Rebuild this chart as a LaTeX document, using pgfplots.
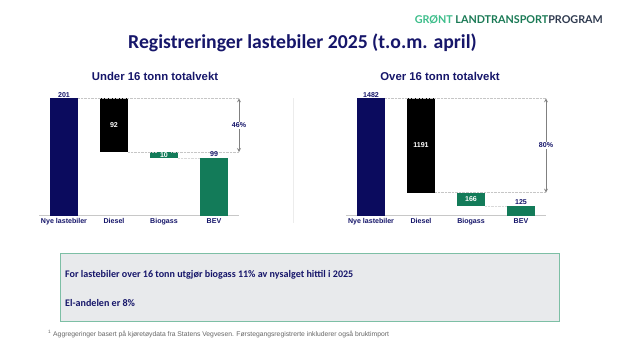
\documentclass[border=0pt]{standalone}
\usepackage{fontspec}
\setmainfont{Carlito}
\newfontfamily\arial{Liberation Sans}
\newfontfamily\logofont{Lato}
\usepackage{pgfplots}
\pgfplotsset{compat=1.18}
\definecolor{navybar}{HTML}{0B0B5E}
\definecolor{navytxt}{HTML}{16166A}
\definecolor{greenbar}{HTML}{137B59}
\definecolor{lgreen}{HTML}{3DBE8B}
\definecolor{dgreen}{HTML}{1A7A55}
\definecolor{logogray}{HTML}{2F3A4F}
\definecolor{boxfill}{HTML}{E8EAEC}
\definecolor{boxdraw}{HTML}{7DBFA5}
\definecolor{axgray}{HTML}{C8C8C8}
\newcommand{\lbl}{\arial\bfseries\fontsize{7.1}{8}\selectfont}
\pgfplotsset{wf/.style={
  width=200bp, height=117.4bp, scale only axis,
  xmin=-0.5, xmax=3.5, ymin=0,
  axis x line*=bottom, axis y line=none,
  x axis line style={axgray, line width=1pt, -},
  xtick={0,1,2,3}, xticklabels={Nye lastebiler,Diesel,Biogass,BEV},
  major tick length=0pt,
  xticklabel style={font=\lbl, text=navytxt, yshift=1pt},
  clip=false,
}}
\begin{document}
\begin{tikzpicture}[x=1bp,y=1bp]
\path[use as bounding box, fill=white] (0,0) rectangle (621,358);
% Left chart
\begin{axis}[wf, at={(39bp,142.3bp)}, anchor=south west, ymax=201]
% bars: Nye lastebiler 0-201, Diesel 109-201, Biogass 99-109, BEV 0-99
\addplot[draw=none, fill=navybar] coordinates {(-0.28,0) (0.28,0) (0.28,201) (-0.28,201)} -- cycle;
\addplot[draw=none, fill=black] coordinates {(0.72,109) (1.28,109) (1.28,201) (0.72,201)} -- cycle;
\addplot[draw=none, fill=greenbar] coordinates {(1.72,99) (2.28,99) (2.28,109) (1.72,109)} -- cycle;
\addplot[draw=none, fill=greenbar] coordinates {(2.72,0) (3.28,0) (3.28,99) (2.72,99)} -- cycle;
\draw[gray!45, densely dotted] (axis cs:0.28,201) -- (axis cs:3.5,201);
\draw[gray!45, densely dotted] (axis cs:1.28,109) -- (axis cs:3.5,109);
\draw[gray!30, densely dotted] (axis cs:2.28,99) -- (axis cs:2.72,99);
\draw[gray, line width=0.8pt, <->, >=stealth] (axis cs:3.5,201) -- (axis cs:3.5,109);
\node[font=\lbl, inner sep=1pt, text=navytxt, anchor=south] at (axis cs:0,201) {201};
\node[font=\lbl, inner sep=1pt, text=white] at (axis cs:1,155) {92};
\node[font=\lbl, text=white, fill=greenbar, inner xsep=3pt, inner ysep=0.3pt] at (axis cs:2,104) {10};
\node[font=\lbl, inner sep=1pt, text=navytxt, anchor=south] at (axis cs:3,99) {99};
\node[font=\lbl, inner sep=1pt, text=navytxt, fill=white] at (axis cs:3.5,155) {46\%};
\end{axis}
% Right chart
\begin{axis}[wf, at={(346bp,142.3bp)}, anchor=south west, ymax=1482]
% bars: Nye lastebiler 0-1482, Diesel 291-1482, Biogass 125-291, BEV 0-125
\addplot[draw=none, fill=navybar] coordinates {(-0.28,0) (0.28,0) (0.28,1482) (-0.28,1482)} -- cycle;
\addplot[draw=none, fill=black] coordinates {(0.72,291) (1.28,291) (1.28,1482) (0.72,1482)} -- cycle;
\addplot[draw=none, fill=greenbar] coordinates {(1.72,125) (2.28,125) (2.28,291) (1.72,291)} -- cycle;
\addplot[draw=none, fill=greenbar] coordinates {(2.72,0) (3.28,0) (3.28,125) (2.72,125)} -- cycle;
\draw[gray!45, densely dotted] (axis cs:0.28,1482) -- (axis cs:3.5,1482);
\draw[gray!45, densely dotted] (axis cs:1.28,291) -- (axis cs:3.5,291);
\draw[gray!30, densely dotted] (axis cs:2.28,125) -- (axis cs:2.72,125);
\draw[gray, line width=0.8pt, <->, >=stealth] (axis cs:3.5,1482) -- (axis cs:3.5,291);
\node[font=\lbl, inner sep=1pt, text=navytxt, anchor=south] at (axis cs:0,1482) {1482};
\node[font=\lbl, inner sep=1pt, text=white] at (axis cs:1,886.5) {1191};
\node[font=\lbl, inner sep=1pt, text=white] at (axis cs:2,208) {166};
\node[font=\lbl, inner sep=1pt, text=navytxt, anchor=south] at (axis cs:3,125) {125};
\node[font=\lbl, inner sep=1pt, text=navytxt, fill=white] at (axis cs:3.5,886.5) {80\%};
\end{axis}
% separator
\draw[gray!15, line width=0.8pt] (293,260) -- (293,135);
% titles
\node[font=\bfseries\fontsize{19.8}{22}\selectfont, text=navytxt] at (302.5,314.7) {Registreringer lastebiler 2025 (t.o.m. april)};
\node[font=\arial\bfseries\fontsize{11.4}{13}\selectfont, text=navytxt] at (155,282) {Under 16 tonn totalvekt};
\node[font=\arial\bfseries\fontsize{11.4}{13}\selectfont, text=navytxt] at (440,282) {Over 16 tonn totalvekt};
% logo
\node[anchor=east, inner sep=0pt, font=\logofont\bfseries\fontsize{10.8}{12}\selectfont] at (603,338) {\textcolor{lgreen}{GRØNT} \textcolor{dgreen}{LANDTRANSPORT}\textcolor{logogray}{PROGRAM}};
% box
\draw[boxdraw, fill=boxfill, line width=0.8pt] (60,105) rectangle (559,37);
\node[anchor=west, inner sep=0pt, text=navytxt, font=\bfseries\fontsize{10.1}{12}\selectfont] at (65,83.5) {For lastebiler over 16 tonn utgjør biogass 11\% av nysalget hittil i 2025};
\node[anchor=west, inner sep=0pt, text=navytxt, font=\bfseries\fontsize{10.1}{12}\selectfont] at (65,54.5) {El-andelen er 8\%};
% footnote
\node[anchor=west, inner sep=0pt, text=gray!80!black, font=\arial\fontsize{6.8}{8}\selectfont] at (48,24) {\textsuperscript{1} Aggregeringer basert på kjøretøydata fra Statens Vegvesen. Førstegangsregistrerte inkluderer også bruktimport};
\end{tikzpicture}
\end{document}
